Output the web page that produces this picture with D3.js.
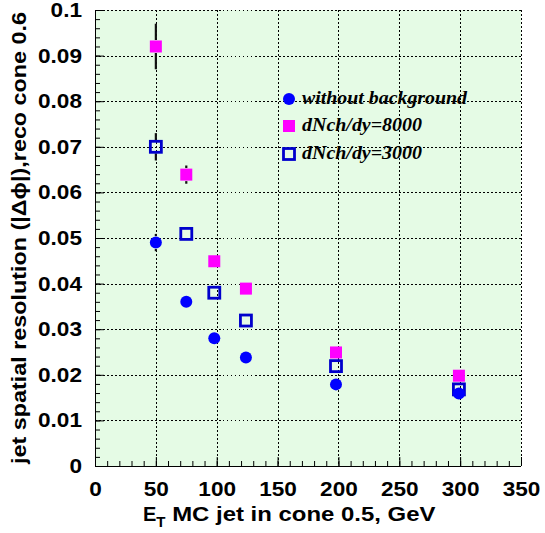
<!DOCTYPE html>
<html><head><meta charset="utf-8">
<script src="https://cdn.jsdelivr.net/npm/d3@7"></script>
<style>body{margin:0;background:#fff}svg{display:block}</style>
</head><body>
<script>
// ---- data ----
const xNoBg   = [50, 75, 98, 124, 198, 299];
const yNoBg   = [0.049, 0.036, 0.028, 0.0238, 0.0179, 0.0159];
const eNoBg   = [0.0019, 0.0008, 0.0005, 0.0004, 0.0003, 0.0003];
const x8000   = [50, 75, 98, 124, 198, 299];
const y8000   = [0.0920, 0.0639, 0.0449, 0.0389, 0.0249, 0.0198];
const e8000   = [0.0050, 0.0020, 0.0008, 0.0006, 0.0004, 0.0003];
const x3000   = [50, 75, 98, 124, 198, 299];
const y3000   = [0.0700, 0.0509, 0.0380, 0.0319, 0.0219, 0.0168];
const e3000   = [0.0030, 0.0010, 0.0006, 0.0005, 0.0004, 0.0003];
const xTicks  = [0, 50, 100, 150, 200, 250, 300, 350];
const yTicks  = [0, 0.01, 0.02, 0.03, 0.04, 0.05, 0.06, 0.07, 0.08, 0.09, 0.1];
const legendLabels = ["without background", "dNch/dy=8000", "dNch/dy=3000"];

const W = 545, H = 533;
const L = 95, R = 521, T = 10, B = 466;
const svg = d3.select("body").append("svg").attr("width", W).attr("height", H);
const x = d3.scaleLinear().domain([0, 350]).range([L, R]);
const y = d3.scaleLinear().domain([0, 0.1]).range([B, T]);
const SANS = "Liberation Sans, Arial, sans-serif";

svg.append("rect").attr("x", L).attr("y", T).attr("width", R - L).attr("height", B - T).attr("fill", "#e5fbe5");

// grid
const g = svg.append("g").attr("stroke", "#000").attr("stroke-width", 1).attr("stroke-dasharray", "1.5,2.5").attr("shape-rendering", "crispEdges");
xTicks.slice(1).forEach(t => g.append("line").attr("x1", Math.round(x(t)) + 0.5).attr("x2", Math.round(x(t)) + 0.5).attr("y1", T).attr("y2", B));
yTicks.slice(1).forEach(t => g.append("line").attr("y1", Math.round(y(t)) + 0.5).attr("y2", Math.round(y(t)) + 0.5).attr("x1", L).attr("x2", R));

// axes
const xMinor = d3.range(0, 351, 10);
const yMinor = d3.range(0, 0.1001, 0.002);
const xAxis = d3.axisBottom(x).tickValues(xMinor).tickSize(-5).tickFormat("");
const xAxisMaj = d3.axisBottom(x).tickValues(xTicks).tickSize(-9).tickFormat(d3.format("d")).tickPadding(16);
const yAxis = d3.axisLeft(y).tickValues(yMinor).tickSize(-5).tickFormat("");
const yAxisMaj = d3.axisLeft(y).tickValues(yTicks).tickSize(-9).tickFormat(d => d === 0 ? "0" : d3.format(".2~f")(d)).tickPadding(13);

function style(sel) {
  sel.select(".domain").remove();
  sel.selectAll("line").attr("stroke", "#000").attr("stroke-width", 1);
  sel.selectAll("text").attr("font-family", SANS).attr("font-weight", "bold").attr("font-size", 20).attr("fill", "#000")
    .each(function() { const n = this.getComputedTextLength(); if (n > 0) d3.select(this).attr("textLength", n * 1.13).attr("lengthAdjust", "spacingAndGlyphs"); });
}
svg.append("g").attr("transform", `translate(0,${B})`).call(xAxis).call(style);
svg.append("g").attr("transform", `translate(0,${B})`).call(xAxisMaj).call(style);
svg.append("g").attr("transform", `translate(${L},0)`).call(yAxis).call(style);
svg.append("g").attr("transform", `translate(${L},0)`).call(yAxisMaj).call(style);
svg.append("line").attr("x1", L).attr("x2", R).attr("y1", B + 0.5).attr("y2", B + 0.5).attr("stroke", "#000");
svg.append("line").attr("x1", L + 0.5).attr("x2", L + 0.5).attr("y1", T).attr("y2", B).attr("stroke", "#000");

// axis titles
const xt = svg.append("text").attr("x", 143).attr("y", 521).attr("text-anchor", "start")
  .attr("font-family", SANS).attr("font-weight", "bold").attr("font-size", 20);
xt.append("tspan").text("E");
xt.append("tspan").attr("dy", 6).attr("font-size", 15).text("T");
xt.append("tspan").attr("dy", -6).attr("textLength", 270).attr("lengthAdjust", "spacingAndGlyphs").text(" MC jet in cone 0.5, GeV");

svg.append("text").attr("transform", `translate(26,238) rotate(-90)`).attr("text-anchor", "middle")
  .attr("font-family", SANS).attr("font-weight", "bold").attr("font-size", 20)
  .attr("textLength", 452).attr("lengthAdjust", "spacingAndGlyphs")
  .text("jet spatial resolution (|Δϕ|),reco cone 0.6");

// error bars (drawn outside the marker only) + markers
const HALF = 6.5;
function errs(xs, ys, es) {
  xs.forEach((xv, i) => {
    const cy = y(ys[i]), top = y(ys[i] + es[i]), bot = y(ys[i] - es[i]);
    if (cy - top > HALF) {
      svg.append("line").attr("x1", x(xv)).attr("x2", x(xv)).attr("y1", top).attr("y2", cy - HALF).attr("stroke", "#111").attr("stroke-width", 2.2);
      svg.append("line").attr("x1", x(xv)).attr("x2", x(xv)).attr("y1", cy + HALF).attr("y2", bot).attr("stroke", "#111").attr("stroke-width", 2.2);
    }
  });
}
errs(x8000, y8000, e8000);
errs(x3000, y3000, e3000);
errs(xNoBg, yNoBg, eNoBg);

x8000.forEach((xv, i) => svg.append("rect").attr("x", x(xv) - 6).attr("y", y(y8000[i]) - 6).attr("width", 12).attr("height", 12).attr("fill", "#ff00ff"));
x3000.forEach((xv, i) => svg.append("rect").attr("x", x(xv) - 5.5).attr("y", y(y3000[i]) - 5.5).attr("width", 11).attr("height", 11).attr("fill", "none").attr("stroke", "#0000cc").attr("stroke-width", 2.8));
xNoBg.forEach((xv, i) => svg.append("circle").attr("cx", x(xv)).attr("cy", y(yNoBg[i])).attr("r", 6).attr("fill", "#0000ff"));

// legend
const lx = 289, ly = [99, 126, 154];
const lw = [165, 120, 120];
svg.append("circle").attr("cx", lx).attr("cy", ly[0]).attr("r", 6).attr("fill", "#0000ff");
svg.append("rect").attr("x", lx - 6).attr("y", ly[1] - 6).attr("width", 12).attr("height", 12).attr("fill", "#ff00ff");
svg.append("rect").attr("x", lx - 5.5).attr("y", ly[2] - 5.5).attr("width", 11).attr("height", 11).attr("fill", "none").attr("stroke", "#0000cc").attr("stroke-width", 2.8);
legendLabels.forEach((t, i) => svg.append("text").attr("x", 302).attr("y", ly[i] + 5).text(t)
  .attr("textLength", lw[i]).attr("lengthAdjust", "spacingAndGlyphs")
  .attr("font-family", "Liberation Serif, Times New Roman, serif").attr("font-style", "italic").attr("font-weight", "bold").attr("font-size", 18));
</script>
</body></html>
